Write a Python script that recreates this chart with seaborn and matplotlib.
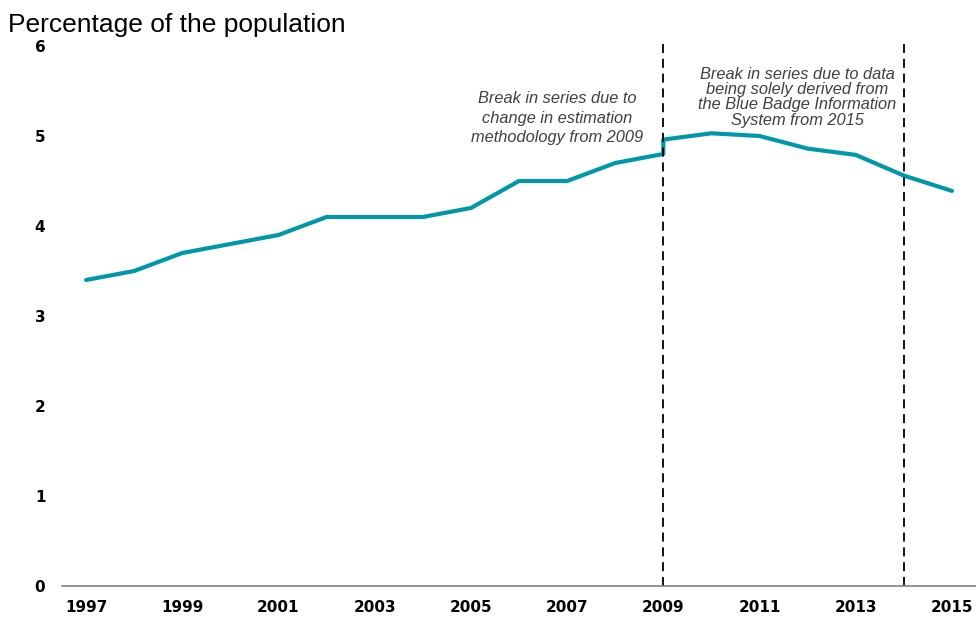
import pandas as pd
import seaborn as sns
import matplotlib.pyplot as plt

# values (2009 appears twice: before and after the break)
Years = [1997, 1998, 1999, 2000, 2001, 2002, 2003, 2004, 2005, 2006, 2007, 2008, 2009,
         2009, 2010, 2011, 2012, 2013, 2014, 2015]
Percent = [3.4, 3.5, 3.7, 3.8, 3.9, 4.1, 4.1, 4.1, 4.2, 4.5, 4.5, 4.7, 4.8,
           4.96, 5.03, 5.0, 4.86, 4.79, 4.56, 4.39]
BreakYears = [2009, 2014]
XTicks = list(range(1997, 2016, 2))
YTicks = [0, 1, 2, 3, 4, 5, 6]

Data = pd.DataFrame({'Year': Years, 'Percent': Percent})

sns.set_style('white')
plt.rcParams['font.family'] = ['Liberation Sans', 'DejaVu Sans']

fig = plt.figure(figsize=(9.76, 6.17), dpi=100)
ax = fig.add_axes([62/976, 31/617, 914/976, 540/617])

sns.lineplot(data=Data, x='Year', y='Percent', estimator=None, sort=False,
             color='#0098a8', linewidth=3, ax=ax)

for b in BreakYears:
    ax.axvline(b, ymin=0, ymax=1.008, color='black', linewidth=1.3,
               linestyle=(0, (5, 3.2)), clip_on=False)

ax.text(2006.8, 5.2, 'Break in series due to\nchange in estimation\nmethodology from 2009',
        ha='center', va='center', style='italic', color='#404040', fontsize=11.8,
        linespacing=1.4)
ax.text(2011.78, 5.43, 'Break in series due to data\nbeing solely derived from\nthe Blue Badge Information\nSystem from 2015',
        ha='center', va='center', style='italic', color='#404040', fontsize=11.8,
        linespacing=1.03)

ax.set_xlim(1996.5, 2015.5)
ax.set_ylim(0, 6)
ax.set_xticks(XTicks)
ax.set_yticks(YTicks)
ax.set_xlabel('')
ax.set_ylabel('')
for lab in ax.get_xticklabels() + ax.get_yticklabels():
    lab.set_fontweight('bold')
    lab.set_family('DejaVu Sans')
    lab.set_fontsize(11)
    lab.set_color('black')
ax.tick_params(axis='x', length=0, pad=10)
ax.tick_params(axis='y', length=0, pad=12)

sns.despine(ax=ax, left=True, top=True, right=True)
ax.spines['bottom'].set_color('#808080')
ax.spines['bottom'].set_linewidth(1.2)

fig.text(8/976, 1 - 32/617, 'Percentage of the population', fontsize=19,
         ha='left', va='baseline', color='black')

fig.savefig('out.png', dpi=100)
